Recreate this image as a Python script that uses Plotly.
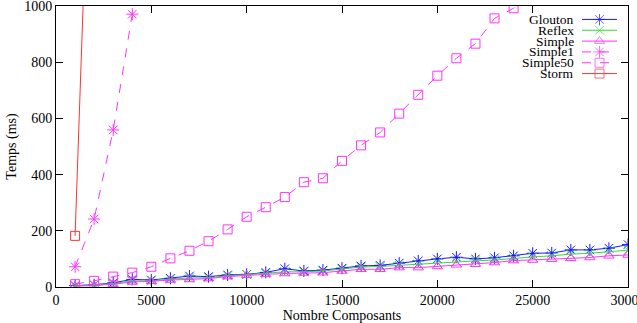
import plotly.graph_objects as go

x_all = [1000 * i for i in range(1, 31)]

glouton = [5, 8, 15, 27, 25, 31, 39, 37, 43, 45, 52, 65, 57, 60, 67, 75, 77, 85, 93, 100,
           106, 100, 104, 111, 120, 121, 132, 132, 138, 151]
reflex = [4, 7, 12, 22, 22, 28, 32, 33, 40, 44, 48, 54, 54, 57, 64, 71, 73, 77, 81, 87,
          90, 93, 96, 102, 107, 111, 117, 120, 126, 131]
simple = [3, 5, 10, 18, 20, 25, 27, 30, 37, 42, 45, 48, 50, 51, 57, 63, 63, 69, 69, 73,
          79, 81, 87, 94, 96, 99, 102, 105, 111, 114]
simple1_x = [1000, 2000, 3000, 4000, 5000]
simple1 = [72, 242, 559, 971, 1500]
simple50_x = [1000 * i for i in range(1, 26)]
simple50 = [10, 22, 37, 51, 72, 102, 129, 163, 205, 250, 284, 320, 373, 387, 449, 504,
            550, 617, 684, 752, 814, 866, 956, 992, 1060]
storm_x = [1000, 2000]
storm = [182, 2130]

x_ticks = [0, 5000, 10000, 15000, 20000, 25000, 30000]
y_ticks = [0, 200, 400, 600, 800, 1000]

names = ["Glouton", "Reflex", "Simple", "Simple1", "Simple50", "Storm"]
colors = ["#1a1aff", "#33dd33", "#ff33ff", "#ff33ff", "#ff33ff", "#ff3333"]
symbols = ["asterisk-open", "x-thin-open", "triangle-up-open", "asterisk-open",
           "square-open", "square-open"]
dashes = ["solid", "solid", "solid", "dash", "dash", "solid"]
sizes = [10, 9, 9, 10, 9, 9]
xs = [x_all, x_all, x_all, simple1_x, simple50_x, storm_x]
ys = [glouton, reflex, simple, simple1, simple50, storm]

FONT = "Liberation Serif, Times New Roman, serif"
fig = go.Figure()
for n, c, s, d, sz, xx, yy in zip(names, colors, symbols, dashes, sizes, xs, ys):
    fig.add_trace(go.Scatter(
        x=xx, y=yy, mode="lines+markers", name=n,
        line=dict(color=c, width=1, dash=d),
        marker=dict(symbol=s, size=sz, color=c, line=dict(color=c, width=1)),
        showlegend=False, cliponaxis=True))

# manual gnuplot-style key (text right-aligned, sample to its right)
n_items = len(names)
for i, (n, c, s, d, sz) in enumerate(zip(names, colors, symbols, dashes, sizes)):
    yk = 1 - (i + 0.5) / n_items
    fig.add_trace(go.Scatter(
        x=[0, 0.5, 1], y=[yk, yk, yk], mode="lines+markers",
        xaxis="x2", yaxis="y2", showlegend=False, hoverinfo="skip",
        line=dict(color=c, width=1, dash=d),
        marker=dict(symbol=s, size=[0, sz, 0], color=c, line=dict(color=c, width=1))))
    fig.add_annotation(x=0, y=yk, xref="x2", yref="y2", text=n, showarrow=False,
                       xanchor="right", yanchor="middle", xshift=-6,
                       font=dict(family=FONT, size=13.5, color="black"))

axis_common = dict(showline=True, linecolor="black", linewidth=1, mirror="ticks",
                   ticks="inside", ticklen=7, tickcolor="black", showgrid=False,
                   zeroline=False, ticklabeloverflow="allow", automargin=False,
                   tickfont=dict(family=FONT, size=14, color="black"))
fig.update_layout(
    width=637, height=323,
    margin=dict(l=56, r=9, t=6, b=36),
    plot_bgcolor="white", paper_bgcolor="white",
    xaxis=dict(range=[-0.5, 30000.5], tickmode="array", tickvals=x_ticks,
               ticktext=[str(v) for v in x_ticks],
               title=dict(text="Nombre Composants", font=dict(family=FONT, size=14, color="black"),
                          standoff=0),
               **axis_common),
    yaxis=dict(range=[-0.02, 1000.02], tickmode="array", tickvals=y_ticks,
               ticktext=[str(v) for v in y_ticks],
               title=dict(text="Temps (ms)", font=dict(family=FONT, size=14, color="black"),
                          standoff=4),
               **axis_common),
    xaxis2=dict(domain=[(582 - 56) / 572, (617 - 56) / 572], range=[0, 1], visible=False,
                anchor="y2", fixedrange=True),
    yaxis2=dict(domain=[1 - (79 - 6) / 281, 1 - (14 - 6) / 281], range=[0, 1], visible=False,
                anchor="x2", fixedrange=True),
)

fig.write_html("out.html")
